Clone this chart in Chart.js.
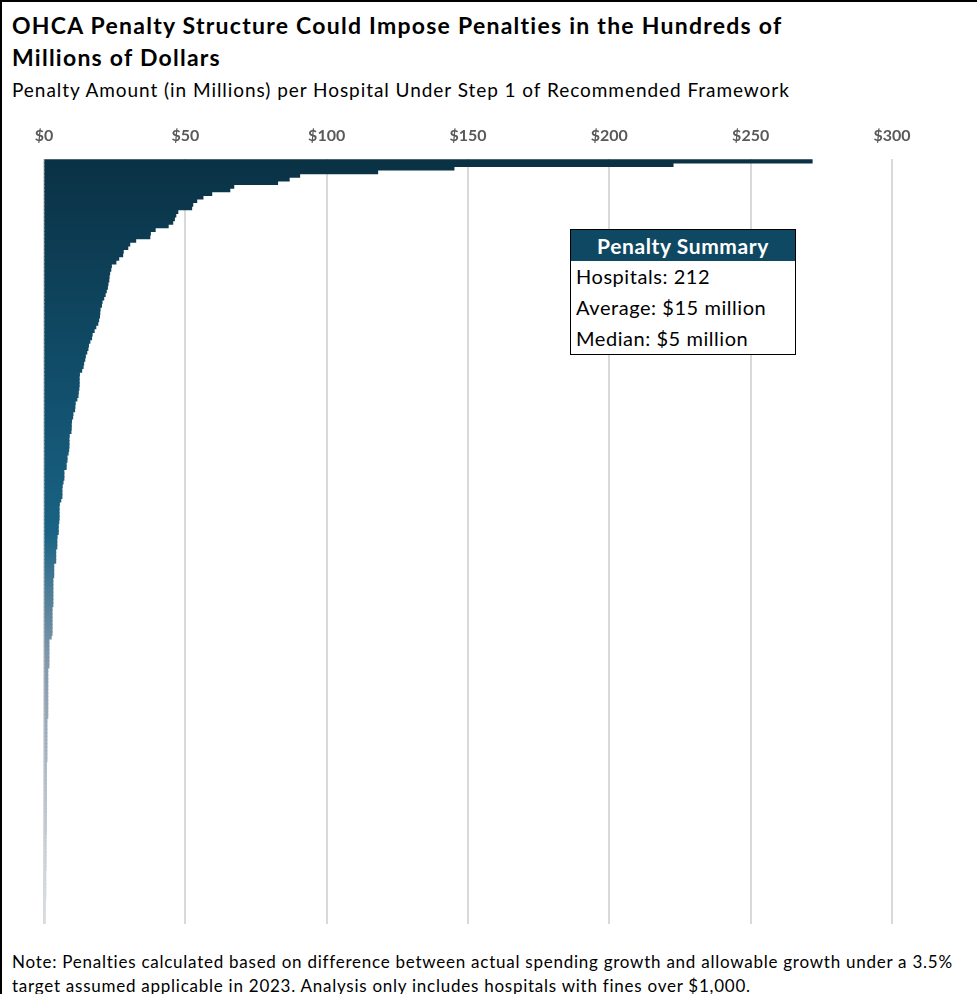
<!DOCTYPE html>
<html>
<head>
<meta charset="utf-8">
<script src="https://cdn.jsdelivr.net/npm/chart.js@4.4.1/dist/chart.umd.min.js"></script>
<style>
  body { margin: 0; background: #fff; font-family: 'Lato', sans-serif; }
  #frame { position: relative; width: 977px; height: 994px; border-left: 2px solid #000; border-top: 2px solid #000; box-sizing: border-box; overflow: hidden; }
  #title { position: absolute; left: 10px; top: 7px; font-size: 23px; font-weight: bold; line-height: 32px; letter-spacing: 1.25px; color: #000; white-space: nowrap; }
  #subtitle { position: absolute; left: 10px; top: 76px; font-size: 19px; letter-spacing: 0.95px; color: #000; white-space: nowrap; }
  #note { position: absolute; left: 10px; top: 948px; font-size: 17px; line-height: 24px; letter-spacing: 0.75px; color: #000; white-space: nowrap; }
  #chartBox { position: absolute; left: -2px; top: 110px; width: 977px; height: 812px; }
  #summary { position: absolute; left: 568px; top: 227px; width: 224px; border: 1.5px solid #000; background: #fff; }
  #summary .head { background: #0f4862; color: #fff; font-weight: bold; font-size: 21px; letter-spacing: 0.6px; text-align: center; height: 31px; line-height: 31px; }
  #summary .row { font-size: 20px; letter-spacing: 0.55px; padding-left: 5px; height: 31px; line-height: 31px; color: #000; }
</style>
</head>
<body>
<div id="frame">
  <div id="title">OHCA Penalty Structure Could Impose Penalties in the Hundreds of<br>Millions of Dollars</div>
  <div id="subtitle">Penalty Amount (in Millions) per Hospital Under Step 1 of Recommended Framework</div>
  <div id="chartBox"><canvas id="myChart"></canvas></div>
  <div id="summary">
    <div class="head">Penalty Summary</div>
    <div class="row">Hospitals: 212</div>
    <div class="row">Average: $15 million</div>
    <div class="row">Median: $5 million</div>
  </div>
  <div id="note">Note: Penalties calculated based on difference between actual spending growth and allowable growth under a 3.5%<br>target assumed applicable in 2023. Analysis only includes hospitals with fines over $1,000.</div>
</div>
<script>
// penalty per hospital, in millions, sorted largest first (212 hospitals)
let penalties = [
    271.7, 222.5, 145.0, 118.0, 90.4, 86.7, 82.6, 67.1, 65.7, 59.3,
    56.2, 54.0, 52.6, 52.2, 47.3, 46.6, 46.1, 45.5, 43.9, 39.3,
    37.6, 37.4, 32.4, 30.3, 29.6, 28.0, 27.8, 26.4, 25.4, 23.8,
    23.6, 23.2, 23.0, 22.9, 22.6, 22.4, 22.0, 21.6, 21.1, 20.5,
    20.3, 19.8, 19.7, 19.6, 19.3, 19.0, 18.3, 17.7, 17.0, 16.8,
    16.2, 15.7, 15.5, 15.1, 14.6, 14.4, 14.0, 13.8, 13.3, 12.5,
    12.4, 12.4, 12.4, 12.3, 12.1, 12.0, 11.6, 11.0, 10.9, 10.8,
    10.2, 10.1, 9.7, 9.6, 9.6, 9.5, 8.9, 8.8, 8.8, 8.8,
    8.7, 8.5, 8.1, 8.1, 7.8, 7.8, 7.0, 7.0, 7.0, 6.7,
    6.4, 6.3, 6.3, 6.3, 5.9, 5.4, 5.3, 5.3, 5.3, 5.3,
    5.2, 5.0, 5.0, 5.0, 4.6, 4.5, 4.5, 4.5, 4.1, 4.1,
    4.1, 4.1, 3.4, 3.4, 3.4, 3.4, 3.1, 3.1, 3.1, 3.1,
    3.1, 3.1, 3.1, 3.1, 2.8, 2.8, 2.8, 2.8, 2.8, 2.8,
    2.8, 2.8, 2.5, 1.7, 1.7, 1.7, 1.7, 1.7, 1.7, 1.7,
    1.7, 1.3, 1.3, 1.3, 1.3, 1.3, 1.3, 1.3, 1.3, 1.3,
    1.3, 1.3, 1.3, 1.3, 1.3, 1.0, 1.0, 1.0, 1.0, 1.0,
    1.0, 1.0, 1.0, 1.0, 1.0, 1.0, 1.0, 0.8, 0.8, 0.8,
    0.8, 0.8, 0.8, 0.8, 0.8, 0.8, 0.8, 0.8, 0.8, 0.8,
    0.8, 0.8, 0.8, 0.8, 0.8, 0.8, 0.8, 0.7, 0.7, 0.7,
    0.7, 0.7, 0.7, 0.7, 0.7, 0.7, 0.7, 0.6, 0.6, 0.6,
    0.6, 0.6, 0.6, 0.6, 0.6, 0.5, 0.5, 0.5, 0.5, 0.5,
    0.5, 0.5
];
let hospitals = penalties.map((v, i) => 'Hospital ' + (i + 1));
let tickValues = [0, 50, 100, 150, 200, 250, 300];

let myChart;
let gradient;

function barGradient(context) {
    let chart = context.chart;
    let area = chart.chartArea;
    if (!area) return '#0a3144';
    if (!gradient) {
        gradient = chart.ctx.createLinearGradient(0, area.top, 0, area.bottom);
        gradient.addColorStop(0, '#0a3144');
        gradient.addColorStop(0.3, '#114f6c');
        gradient.addColorStop(0.49, '#1a6384');
        gradient.addColorStop(0.56, '#4a7a95');
        gradient.addColorStop(0.65, '#7f97aa');
        gradient.addColorStop(0.78, '#a6b4c2');
        gradient.addColorStop(0.9, '#c6ced6');
        gradient.addColorStop(1, '#dde1e6');
    }
    return gradient;
}

const config = {
    type: 'bar',
    data: {
        labels: hospitals,
        datasets: [{
            data: penalties,
            backgroundColor: barGradient,
            borderWidth: 0,
            barPercentage: 1,
            categoryPercentage: 1,
            inflateAmount: 0.6, // hides the hairline seams between bars
        }]
    },
    options: {
        indexAxis: 'y',
        responsive: false,
        animation: false,
        layout: { padding: { left: 44, right: 85, top: 0, bottom: 0 } },
        plugins: {
            legend: { display: false },
            tooltip: { enabled: false },
        },
        scales: {
            x: {
                position: 'top',
                min: 0,
                max: 300,
                afterBuildTicks: (axis) => { axis.ticks = tickValues.map(v => ({ value: v })); },
                ticks: {
                    callback: (v) => '$' + v,
                    font: { family: 'Lato', size: 16, weight: 'bold' },
                    color: '#595959',
                    padding: 14,
                },
                grid: { color: '#d9d9d9', lineWidth: 2, drawTicks: false },
                border: { display: false },
            },
            y: { display: false },
        },
    },
};

function init() {
    let canvas = document.getElementById('myChart');
    canvas.width = 977;
    canvas.height = 812;
    myChart = new Chart(canvas, config);
}
init();
</script>
</body>
</html>
